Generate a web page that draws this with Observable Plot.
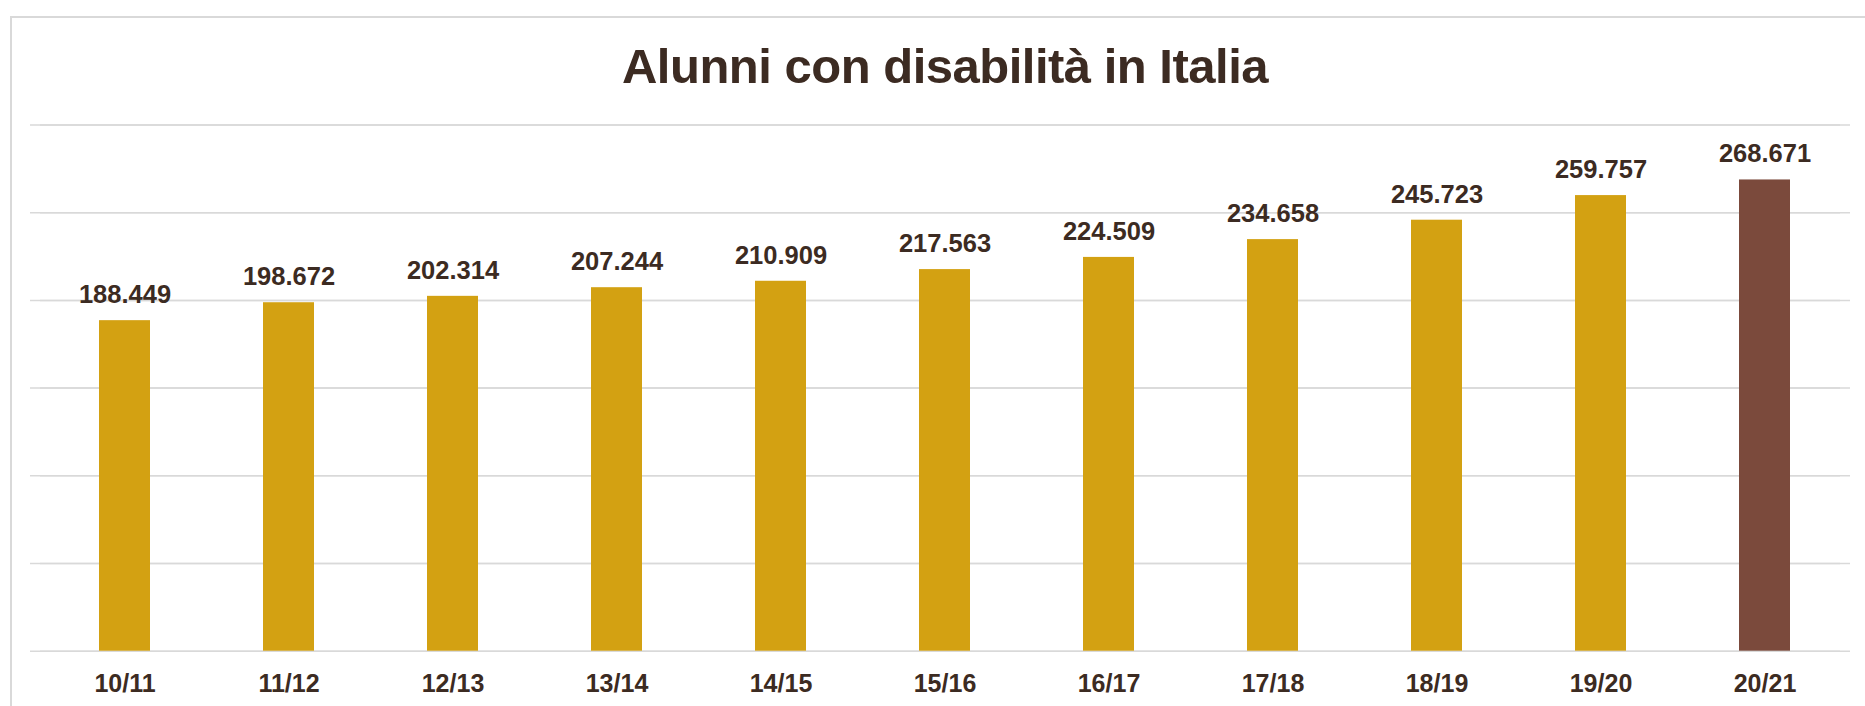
<!DOCTYPE html>
<html>
<head>
<meta charset="utf-8">
<script src="https://cdn.jsdelivr.net/npm/d3@7"></script>
<script src="https://cdn.jsdelivr.net/npm/@observablehq/plot@0.6"></script>
<style>
  html, body { margin: 0; padding: 0; background: #fff; }
  #wrap { position: relative; width: 1865px; height: 706px; overflow: hidden; font-family: "Liberation Sans", Arial, sans-serif; }
  #frame { position: absolute; left: 10px; top: 15.5px; width: 1900px; height: 800px; border: 2px solid #d9d9d9; box-sizing: border-box; }
  #title { position: absolute; left: 0; width: 1890px; top: 36px; text-align: center; font-size: 49px; letter-spacing: -0.5px; font-weight: bold; color: #3c2b22; line-height: 60px; white-space: nowrap; }
  #chart { position: absolute; left: 0; top: 0; }
</style>
</head>
<body>
<div id="wrap">
  <div id="frame"></div>
  <div id="chart"></div>
  <div id="title">Alunni con disabilità in Italia</div>
</div>
<script>
const years = ["10/11","11/12","12/13","13/14","14/15","15/16","16/17","17/18","18/19","19/20","20/21"];
const values = [188449, 198672, 202314, 207244, 210909, 217563, 224509, 234658, 245723, 259757, 268671];
const gridTicks = [0, 50000, 100000, 150000, 200000, 250000, 300000];
const barColors = ["#d3a112", "#7b4a3c"];

const data = years.map((y, i) => ({year: y, value: values[i], highlight: i === years.length - 1}));
const fmt = d3.formatLocale({decimal: ",", thousands: ".", grouping: [3], currency: ["", "€"]}).format(",d");
const textColor = "#3c2b22";

const chart = Plot.plot({
  width: 1865,
  height: 706,
  marginTop: 124.5,
  marginBottom: 55.3,
  marginLeft: 40,
  marginRight: 15,
  style: {fontFamily: "'Liberation Sans', Arial, sans-serif", background: "transparent"},
  x: {domain: years, paddingInner: 0.686, paddingOuter: 0.343, label: null},
  y: {domain: [0, 300000], axis: null},
  marks: [
    Plot.ruleY(gridTicks, {stroke: "#d9d9d9", strokeWidth: 1.5}),
    Plot.ruleY(gridTicks, {stroke: "#d9d9d9", strokeWidth: 1.5, dx: -10}),
    Plot.barY(data, {x: "year", y: "value", fill: d => d.highlight ? barColors[1] : barColors[0]}),
    Plot.text(data, {x: "year", y: "value", text: d => fmt(d.value), lineAnchor: "bottom", dy: -17.5,
      fontSize: 25.5, fontWeight: "bold", fill: textColor}),
    Plot.axisX({tickSize: 0, tickPadding: 23.5, fontSize: 25, fontWeight: "bold", color: textColor, label: null})
  ]
});
document.getElementById("chart").appendChild(chart);
</script>
</body>
</html>
